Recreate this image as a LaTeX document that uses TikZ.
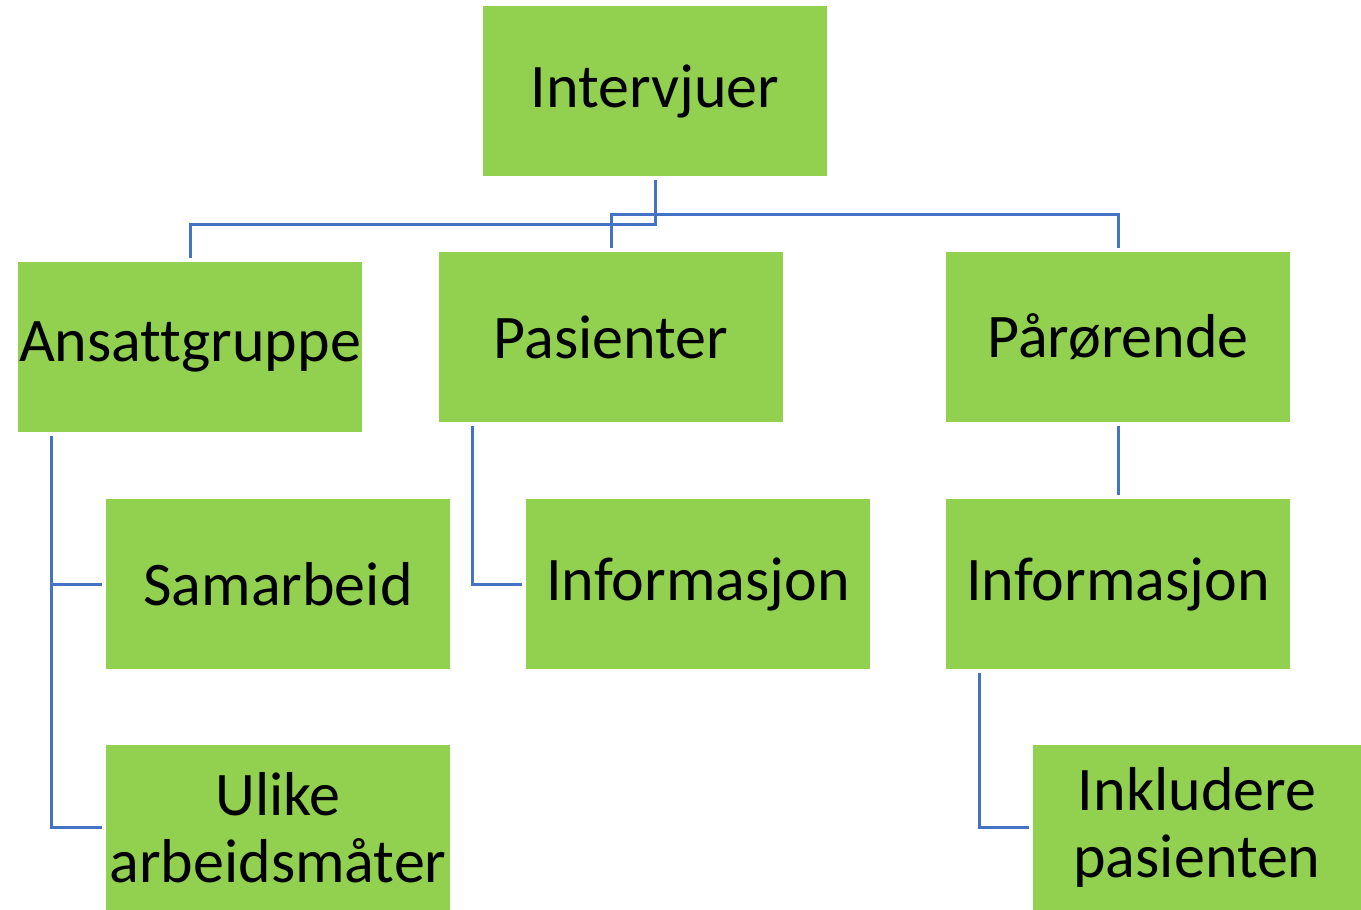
\documentclass[tikz,border=0pt]{standalone}
\usepackage{fontspec}
\setmainfont[Ligatures=NoCommon]{Carlito}
\definecolor{boxgreen}{HTML}{92D050}
\definecolor{linkblue}{HTML}{4472C4}
\tikzset{
  box/.style={
    rectangle,
    minimum width=344pt,
    minimum height=170pt,
    inner sep=0pt,
    outer sep=4pt,
    align=center,
    font=\fontsize{62}{67}\selectfont,
  fill=boxgreen
  },
  link/.style={
    draw=linkblue,
    line width=3pt
  }
}

\begin{document}
\begin{tikzpicture}[x=1pt,y=-1pt]
    \useasboundingbox (0,0) rectangle (1361,910);
    \node[box] (int) at (655,91) {Intervjuer};
    \node[box] (ans) at (190,347) {Ansattgruppe};
    \node[box] (pas) at (611,337) {Pasienter};
    \node[box] (par) at (1118,337) {Pårørende};
    \node[box] (sam) at (278,584) {Samarbeid};
    \node[box] (inf1) at (698,584) {Informasjon};
    \node[box] (inf2) at (1118,584) {Informasjon};
    \node[box,minimum height=165pt] (uli) at (278,827.5) {Ulike\\arbeidsmåter};
    \node[box,minimum width=328pt,minimum height=165pt] (ink) at (1197,827.5) {Inkludere\\pasienten};
    \draw[link] (int.south) -- ++(0,44) -| (ans.north);
    \draw[link] (pas.north) -- ++(0,-34) -| (par.north);
    \draw[link] ([xshift=37pt]ans.south west) |- (sam.west);
    \draw[link] ([xshift=37pt]ans.south west) |- (uli.west);
    \draw[link] ([xshift=37pt]pas.south west) |- (inf1.west);
    \draw[link] (par.south) -- (inf2.north);
    \draw[link] ([xshift=37pt]inf2.south west) |- (ink.west);
\end{tikzpicture}
\end{document}
